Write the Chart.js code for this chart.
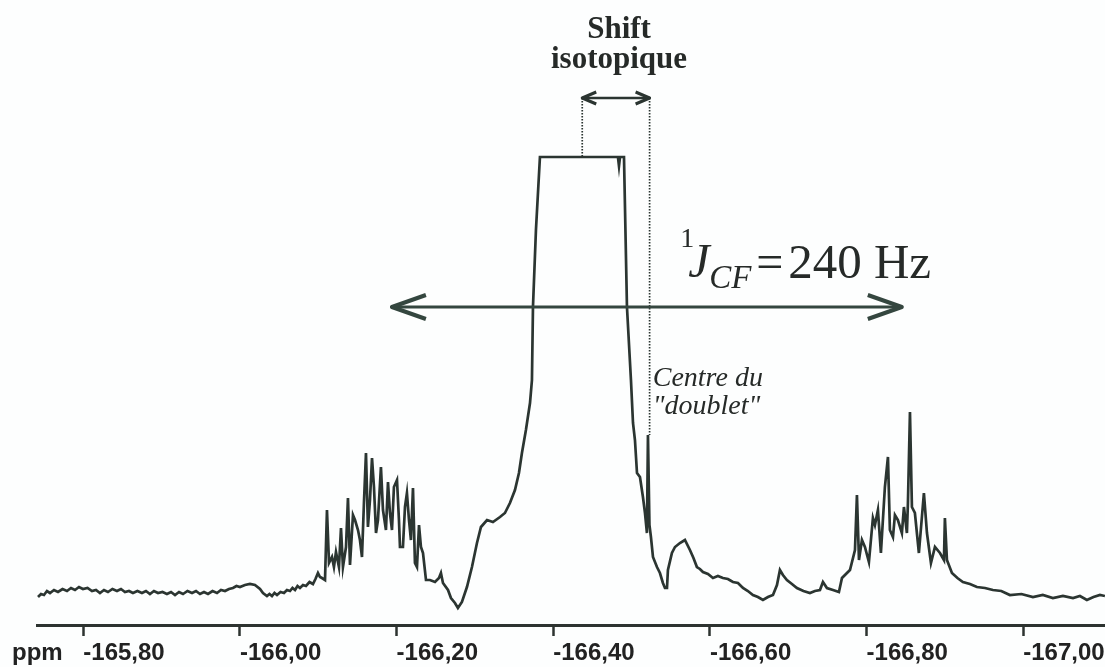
<!DOCTYPE html>
<html>
<head>
<meta charset="utf-8">
<title>Spectre RMN 19F</title>
<script src="https://cdn.jsdelivr.net/npm/chart.js@4.4.1/dist/chart.umd.min.js"></script>
<style>
  html, body { margin: 0; padding: 0; background: #fff; }
  #wrap { width: 1105px; height: 667px; }
</style>
</head>
<body>
<div id="wrap"><canvas id="spectre"></canvas></div>
<script>
// chemical shift (ppm) / intensity, split by region of the spectrum
const baseLeftPpm = [-165.7422, -165.7460, -165.7498, -165.7536, -165.7575, -165.7626, -165.7677, -165.7735, -165.7792, -165.7843,
  -165.7894, -165.7945, -165.7996, -165.8054, -165.8111, -165.8162, -165.8213, -165.8264, -165.8315, -165.8372,
  -165.8430, -165.8481, -165.8532, -165.8583, -165.8634, -165.8691, -165.8749, -165.8800, -165.8851, -165.8902,
  -165.8954, -165.9011, -165.9068, -165.9120, -165.9171, -165.9222, -165.9273, -165.9330, -165.9388, -165.9439,
  -165.9490, -165.9541, -165.9592, -165.9650, -165.9707, -165.9758, -165.9809, -165.9860, -165.9911, -165.9956,
  -166.0000, -166.0064, -166.0128, -166.0192, -166.0256, -166.0294, -166.0345, -166.0377, -166.0409, -166.0441,
  -166.0473, -166.0518, -166.0562, -166.0600, -166.0639, -166.0671, -166.0703, -166.0735, -166.0766, -166.0805,
  -166.0843, -166.0888, -166.0932, -166.0964, -166.0996, -166.1022, -166.1047, -166.1086];
const baseLeftInt = [5.6, 6.2, 6.0, 6.8, 6.4, 7.0, 6.6, 7.2, 6.8, 7.4,
  7.0, 7.6, 7.2, 7.4, 6.8, 7.0, 6.4, 7.0, 6.6, 7.2,
  6.8, 7.2, 6.6, 6.8, 6.4, 6.8, 6.4, 6.8, 6.2, 6.8,
  6.4, 6.6, 6.2, 6.6, 6.0, 6.6, 6.2, 6.8, 6.4, 6.8,
  6.2, 6.6, 6.2, 6.8, 6.4, 7.0, 6.8, 7.2, 7.4, 7.8,
  7.6, 8.0, 8.2, 8.0, 7.2, 6.4, 5.8, 6.2, 5.8, 6.4,
  6.0, 6.6, 6.4, 7.0, 6.8, 7.4, 7.0, 7.8, 7.4, 8.0,
  7.8, 8.6, 8.2, 9.2, 10.4, 9.6, 9.4, 9.0];

const multLeftPpm = [-166.1111, -166.1137, -166.1175, -166.1200, -166.1226, -166.1264, -166.1290, -166.1315, -166.1354, -166.1379,
  -166.1405, -166.1443, -166.1469, -166.1507, -166.1532, -166.1558, -166.1583, -166.1609, -166.1634, -166.1660,
  -166.1686, -166.1711, -166.1737, -166.1762, -166.1800, -166.1826, -166.1864, -166.1890, -166.1915, -166.1941,
  -166.1966, -166.2005, -166.2030, -166.2043, -166.2081, -166.2107, -166.2132, -166.2158, -166.2183, -166.2209,
  -166.2234, -166.2260, -166.2286, -166.2311, -166.2337, -166.2375, -166.2426, -166.2490, -166.2541, -166.2566,
  -166.2592, -166.2656, -166.2694, -166.2745, -166.2783, -166.2834, -166.2898, -166.2962, -166.3026, -166.3077,
  -166.3154, -166.3230, -166.3320, -166.3383, -166.3447, -166.3511, -166.3562, -166.3600];
const multLeftInt = [23.0, 12.4, 13.6, 11.6, 14.6, 11.6, 19.4, 11.6, 15.6, 25.4,
  12.0, 22.0, 21.0, 19.0, 17.0, 13.6, 24.4, 34.4, 19.6, 25.0,
  33.4, 27.6, 18.4, 21.0, 31.6, 23.0, 19.0, 28.6, 22.4, 19.0,
  27.6, 29.0, 21.0, 15.6, 15.6, 23.6, 26.4, 21.0, 17.0, 27.4,
  12.4, 11.6, 20.0, 15.6, 14.4, 9.0, 9.0, 8.6, 9.4, 10.4,
  8.4, 7.0, 5.4, 4.4, 3.4, 4.6, 7.6, 11.6, 16.4, 19.6,
  21.0, 20.6, 21.6, 22.4, 24.4, 27.0, 30.4, 34.4];

// central line, cut off flat by the plotter
const centralPpm = [-166.3651, -166.3703, -166.3728, -166.3741, -166.3779, -166.3830,
  -166.4826, -166.4839, -166.4852, -166.4903, -166.4941, -166.4992, -166.5018, -166.5043, -166.5069,
  -166.5107, -166.5145, -166.5171, -166.5196, -166.5209, -166.5228, -166.5247, -166.5273];
const centralInt = [39.0, 44.4, 49.0, 63.6, 79.0, 93.6,
  93.6, 91.8, 93.6, 93.6, 63.6, 49.0, 40.4, 37.0, 30.4,
  29.6, 25.6, 22.4, 18.4, 38.0, 20.0, 17.6, 13.6];

const wingRightPpm = [-166.5324, -166.5362, -166.5400, -166.5426, -166.5452, -166.5464, -166.5515, -166.5554, -166.5617, -166.5681,
  -166.5745, -166.5790, -166.5834, -166.5872, -166.5911, -166.5975, -166.6039, -166.6102, -166.6166, -166.6230,
  -166.6294, -166.6358, -166.6422, -166.6485, -166.6549, -166.6613, -166.6677, -166.6741, -166.6805, -166.6856,
  -166.6894, -166.6932, -166.6983, -166.7047, -166.7111, -166.7194, -166.7277, -166.7341, -166.7405, -166.7443,
  -166.7494, -166.7571, -166.7647];
const wingRightInt = [11.6, 10.4, 8.4, 7.4, 7.4, 11.0, 14.4, 15.6, 16.4, 17.0,
  15.0, 13.4, 11.6, 11.2, 10.6, 10.2, 9.4, 9.8, 9.4, 9.2,
  8.6, 8.4, 7.4, 6.8, 6.0, 5.6, 5.0, 5.6, 6.0, 8.0,
  11.0, 10.0, 9.0, 8.2, 7.4, 6.8, 6.4, 6.8, 7.0, 8.6,
  7.4, 7.0, 6.6];

const multRightPpm = [-166.7686, -166.7788, -166.7852, -166.7877, -166.7903, -166.7941, -166.7979, -166.8030, -166.8081, -166.8107,
  -166.8145, -166.8183, -166.8234, -166.8273, -166.8298, -166.8337, -166.8362, -166.8400, -166.8451, -166.8477,
  -166.8515, -166.8528, -166.8554, -166.8579, -166.8617, -166.8668, -166.8732, -166.8771, -166.8822, -166.8873,
  -166.8937, -166.8988, -166.9000, -166.9026, -166.9090];
const multRightInt = [9.4, 11.0, 15.0, 26.0, 13.0, 17.0, 15.6, 12.6, 21.4, 20.0,
  23.0, 14.4, 27.6, 33.6, 19.0, 17.6, 22.0, 21.0, 18.4, 23.6,
  18.4, 24.4, 42.6, 23.6, 22.4, 14.4, 26.4, 18.4, 12.4, 15.6,
  14.4, 13.0, 21.4, 13.0, 10.4];

const baseRightPpm = [-166.9160, -166.9230, -166.9320, -166.9409, -166.9511, -166.9613, -166.9720, -166.9830, -166.9977, -167.0124,
  -167.0250, -167.0379, -167.0507, -167.0635, -167.0724, -167.0813, -167.0897, -167.0980, -167.1043];
const baseRightInt = [9.4, 8.6, 8.2, 7.6, 7.4, 7.0, 6.8, 6.0, 6.2, 5.6,
  6.0, 5.4, 5.8, 5.4, 5.8, 5.0, 5.6, 6.0, 5.8];

const tickValues = [-165.8, -166.0, -166.2, -166.4, -166.6, -166.8, -167.0];

const shifts = [].concat(baseLeftPpm, multLeftPpm, centralPpm, wingRightPpm, multRightPpm, baseRightPpm);
const intensity = [].concat(baseLeftInt, multLeftInt, centralInt, wingRightInt, multRightInt, baseRightInt);

const ink = '#2b3531';

function twoHeadArrow(ctx, xa, xb, y, head, half, headWidth) {
  const x1 = Math.min(xa, xb), x2 = Math.max(xa, xb);
  ctx.beginPath();
  ctx.moveTo(x1, y); ctx.lineTo(x2, y);
  ctx.stroke();
  ctx.lineWidth = headWidth;
  ctx.beginPath();
  ctx.moveTo(x1 + head, y - half); ctx.lineTo(x1, y); ctx.lineTo(x1 + head, y + half);
  ctx.moveTo(x2 - head, y - half); ctx.lineTo(x2, y); ctx.lineTo(x2 - head, y + half);
  ctx.stroke();
}

// arrows, guides and labels drawn on top of the trace
const annotations = {
  id: 'annotations',
  beforeDraw(chart) {
    const ctx = chart.ctx;
    ctx.save();
    ctx.fillStyle = '#fdfefe';
    ctx.fillRect(0, 0, chart.width, chart.height);
    ctx.restore();
  },
  afterDraw(chart) {
    const ctx = chart.ctx;
    const px = v => chart.scales.x.getPixelForValue(v);
    const py = v => chart.scales.y.getPixelForValue(v);
    ctx.save();
    ctx.strokeStyle = ink;
    ctx.fillStyle = ink;
    ctx.lineCap = 'butt';
    ctx.lineJoin = 'round';

    // dotted guides of the isotopic shift
    ctx.setLineDash([1.5, 1.5]);
    ctx.lineWidth = 1.7;
    ctx.beginPath();
    ctx.moveTo(px(-166.437), py(105.4)); ctx.lineTo(px(-166.437), py(93.6));
    ctx.moveTo(px(-166.523), py(105.4)); ctx.lineTo(px(-166.523), py(38));
    ctx.stroke();
    ctx.setLineDash([]);

    ctx.lineWidth = 2.5;
    twoHeadArrow(ctx, px(-166.437), px(-166.523), py(105.4), 14, 6, 3);

    ctx.strokeStyle = '#34463f';
    ctx.lineWidth = 3.2;
    twoHeadArrow(ctx, px(-166.194), px(-166.845), py(63.6), 34, 12, 4);

    // texts
    ctx.fillStyle = '#262a28';
    ctx.textBaseline = 'alphabetic';
    ctx.textAlign = 'center';
    ctx.font = 'bold 31px "Liberation Serif"';
    ctx.fillText('Shift', px(-166.484), py(117.4));
    ctx.fillText('isotopique', px(-166.484), py(111.4));

    ctx.textAlign = 'left';
    const ax = px(-166.562), base = py(69.4);
    ctx.font = '28px "Liberation Serif"';
    ctx.fillText('1', ax, base - 31);
    ctx.font = 'italic 48px "Liberation Serif"';
    ctx.fillText('J', ax + 8, base - 1);
    ctx.font = 'italic 33px "Liberation Serif"';
    ctx.fillText('CF', ax + 29, base + 10);
    ctx.font = '48px "Liberation Serif"';
    ctx.fillText('=', ax + 76, base);
    ctx.font = '49px "Liberation Serif"';
    ctx.fillText('240 Hz', ax + 108, base);

    ctx.font = 'italic 28px "Liberation Serif"';
    ctx.fillText('Centre du', px(-166.527), py(47.8));
    ctx.fillText('"doublet"', px(-166.527), py(42.2));

    ctx.font = 'bold 24px "Liberation Sans"';
    ctx.fillStyle = '#222';
    ctx.fillText('ppm', chart.scales.x.left - 25, py(0) + 35);
    ctx.restore();
  }
};

new Chart(document.getElementById('spectre'), {
  type: 'line',
  data: {
    datasets: [{
      data: shifts.map((v, i) => ({ x: v, y: intensity[i] })),
      borderColor: ink,
      borderWidth: 2.7,
      pointRadius: 0,
      tension: 0,
      fill: false
    }]
  },
  options: {
    responsive: true,
    maintainAspectRatio: false,
    animation: false,
    layout: { padding: { left: 37, right: 0, top: 0, bottom: 0 } },
    plugins: {
      legend: { display: false },
      tooltip: { enabled: false }
    },
    scales: {
      x: {
        type: 'linear',
        reverse: true,
        min: -167.1044,
        max: -165.7409,
        afterBuildTicks: s => { s.ticks = tickValues.map(v => ({ value: v })); },
        afterFit: s => { s.height = 42; s.paddingLeft = 0; s.paddingRight = 0; },
        border: { display: true, color: '#2d3330', width: 3 },
        grid: { display: true, drawOnChartArea: false, drawTicks: true, tickLength: 11, tickWidth: 2.5, tickColor: '#2d3330' },
        ticks: {
          autoSkip: false,
          maxRotation: 0,
          align: 'start',
          padding: 3,
          color: '#222',
          font: { family: '"Liberation Sans"', size: 24, weight: 'bold' },
          callback: v => v.toFixed(2).replace('.', ',')
        }
      },
      y: {
        display: false,
        min: 0,
        max: 125
      }
    }
  },
  plugins: [annotations]
});
</script>
</body>
</html>
